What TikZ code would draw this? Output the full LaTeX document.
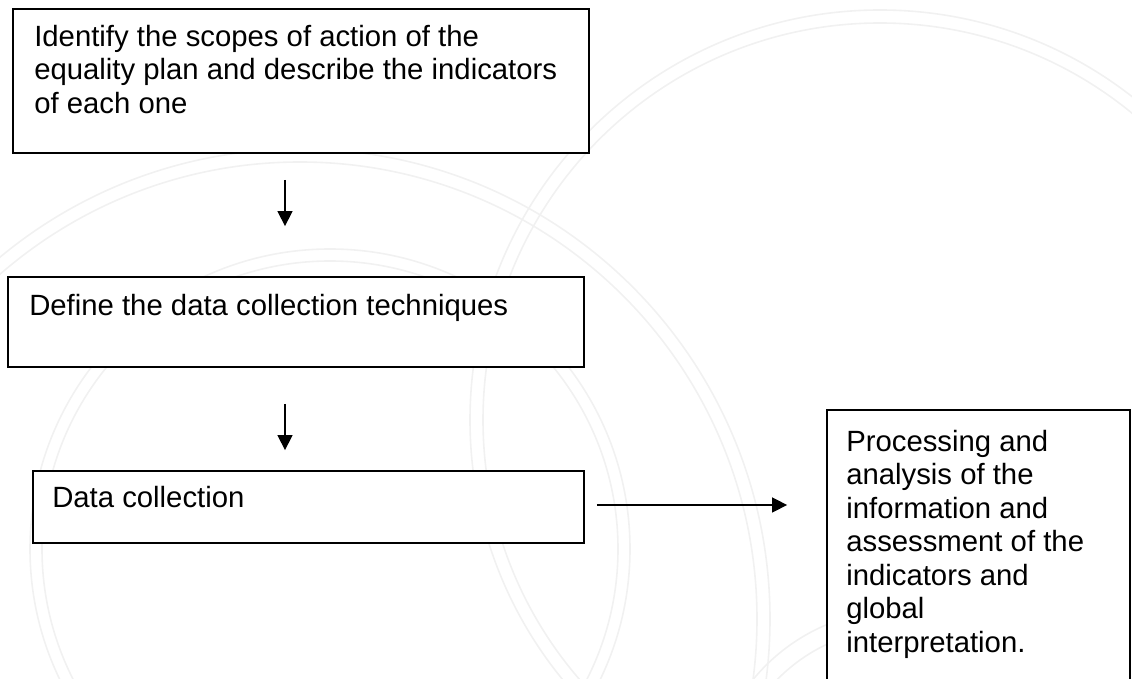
\documentclass[tikz,border=0pt]{standalone}
\usepackage{fontspec}
\setmainfont{Liberation Sans}
\usetikzlibrary{arrows.meta, calc, positioning}
\tikzset{ x=1pt, y=1pt, >={Triangle[width=15pt, length=15pt]},
  stepbox/.style={draw, line width=1.8pt, fill=white, inner sep=0pt},
  steptext/.style={anchor=base west, align=left, inner sep=0pt},
  flow/.style={->, line width=1.5pt},
  wmark/.style={draw=gray!11, line width=1.6pt} }

\begin{document}
\begin{tikzpicture}[font=\fontsize{29.3}{33.5}\selectfont]
\useasboundingbox (0,0) rectangle (1132,679);
\clip (0,0) rectangle (1132,679);
% faint watermark in the background
\draw[wmark] (880,259) circle[radius=410] (880,259) circle[radius=397];
\draw[wmark] (300,60) circle[radius=470] (300,60) circle[radius=457];
\draw[wmark] (330,130) circle[radius=300] (330,130) circle[radius=288];
\draw[wmark] (900,-121) circle[radius=190] (900,-121) circle[radius=172];
% boxes (texts sit on the baseline of their last line)
\node[stepbox, minimum width=576, minimum height=144] (scope) at (301,598) {};
\node[steptext] (scope-txt) at ($(scope.north west)+(22,-105)$)
  {Identify the scopes of action of the\\equality plan and describe the indicators\\of each one};
\node[stepbox, minimum width=576, minimum height=90] (techniques) at (296,357) {};
\node[steptext] (techniques-txt) at ($(techniques.north west)+(22,-39)$)
  {Define the data collection techniques};
\node[stepbox, minimum width=551, minimum height=72] (collect) at (308.5,172) {};
\node[steptext] (collect-txt) at ($(collect.north west)+(20,-37)$) {Data collection};
\node[stepbox, minimum width=303, minimum height=290] (process) at (978.5,124) {};
\node[steptext] (process-txt) at ($(process.north west)+(20,-243)$)
  {Processing and\\analysis of the\\information and\\assessment of the\\indicators and\\global\\interpretation.};
% arrows
\coordinate (spine) at (285,0);
\draw[flow, shorten <=26pt, shorten >=50pt] (spine |- scope.south) -- (spine |- techniques.north);
\draw[flow, shorten <=36pt, shorten >=20pt] (spine |- techniques.south) -- (spine |- collect.north);
\draw[flow, shorten <=12pt, shorten >=39pt] ([yshift=2pt]collect.east) -- ([yshift=2pt]collect.east -| process.west);
\end{tikzpicture}
\end{document}
